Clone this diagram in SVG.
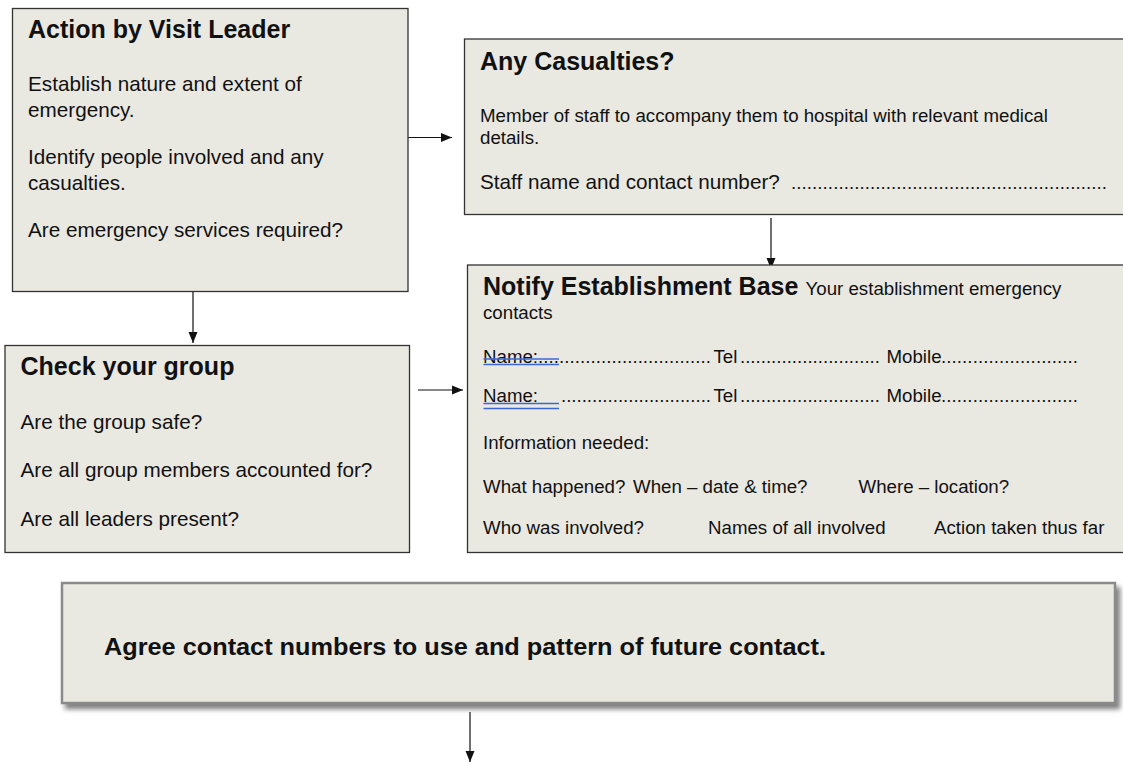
<svg xmlns="http://www.w3.org/2000/svg" width="1123" height="763" viewBox="0 0 1123 763">
  <style>
    text { font-family: "Liberation Sans", Arial, sans-serif; fill: #111; }
    .box { fill: #e9e8e1; stroke: #333; stroke-width: 1.3; }
    .head { font-size: 25px; font-weight: bold; }
    .body { font-size: 20.7px; }
    .small { font-size: 18.7px; }
    .conn { stroke: #111; stroke-width: 1.2; fill: none; marker-end: url(#arrow); }
    .spell { stroke: #3b68d8; stroke-width: 1.6; }
  </style>
  <defs>
    <marker id="arrow" markerUnits="userSpaceOnUse" markerWidth="11" markerHeight="10" refX="11" refY="5" orient="auto">
      <path d="M0,0.5 L11,5 L0,9.5 z" fill="#111"/>
    </marker>
    <filter id="shadow" x="-5%" y="-20%" width="115%" height="150%">
      <feDropShadow dx="4" dy="5" stdDeviation="2.5" flood-color="#555" flood-opacity="0.75"/>
    </filter>
  </defs>

  <rect width="1123" height="763" fill="#fff"/>

  <!-- connectors -->
  <g id="connectors">
    <line class="conn" x1="408" y1="137.5" x2="452" y2="137.5"/>
    <line class="conn" x1="193" y1="291" x2="193" y2="343"/>
    <line class="conn" x1="418" y1="390" x2="463" y2="390"/>
    <line class="conn" x1="771" y1="218" x2="771" y2="269"/>
    <line class="conn" x1="470" y1="712" x2="470" y2="762"/>
  </g>

  <!-- Action by Visit Leader -->
  <g id="visit-leader">
    <rect class="box" x="12.5" y="8.5" width="395.5" height="283"/>
    <text class="head" x="28" y="38">Action by Visit Leader</text>
    <text class="body" x="28" y="91">Establish nature and extent of</text>
    <text class="body" x="28" y="117">emergency.</text>
    <text class="body" x="28" y="164">Identify people involved and any</text>
    <text class="body" x="28" y="190">casualties.</text>
    <text class="body" x="28" y="237">Are emergency services required?</text>
  </g>

  <!-- Any Casualties? -->
  <g id="casualties">
    <rect class="box" x="464.5" y="39" width="670" height="175.5"/>
    <text class="head" x="480" y="69.5">Any Casualties?</text>
    <text class="small" x="480" y="121.5">Member of staff to accompany them to hospital with relevant medical</text>
    <text class="small" x="480" y="144">details.</text>
    <text class="body" x="480" y="188.5">Staff name and contact number?</text>
    <text class="small" x="791" y="188.5" textLength="316" lengthAdjust="spacing">............................................................</text>
  </g>

  <!-- Notify Establishment Base -->
  <g id="notify-base">
    <rect class="box" x="467.5" y="265" width="670" height="287.5"/>
    <text class="head" x="483" y="295">Notify Establishment Base</text>
    <text class="small" x="805.5" y="295">Your establishment emergency</text>
    <text class="small" x="483" y="318.5">contacts</text>

    <text class="small" x="483" y="363">Name:</text>
    <text class="small" x="538" y="363" textLength="173" lengthAdjust="spacing">.................................</text>
    <text class="small" x="713.5" y="363">Tel</text>
    <text class="small" x="740" y="363" textLength="140" lengthAdjust="spacing">...........................</text>
    <text class="small" x="886.5" y="363">Mobile</text>
    <text class="small" x="941" y="363" textLength="137" lengthAdjust="spacing">..........................</text>
    <line class="spell" x1="483.5" y1="359" x2="559" y2="359"/>
    <line class="spell" x1="483.5" y1="364.5" x2="559" y2="364.5"/>

    <text class="small" x="483" y="402">Name:</text>
    <text class="small" x="561" y="402" textLength="150" lengthAdjust="spacing">.............................</text>
    <text class="small" x="713.5" y="402">Tel</text>
    <text class="small" x="740" y="402" textLength="140" lengthAdjust="spacing">...........................</text>
    <text class="small" x="886.5" y="402">Mobile</text>
    <text class="small" x="941" y="402" textLength="137" lengthAdjust="spacing">..........................</text>
    <line class="spell" x1="483.5" y1="403.5" x2="559" y2="403.5"/>
    <line class="spell" x1="483.5" y1="408.5" x2="559" y2="408.5"/>

    <text class="small" x="483" y="448.5">Information needed:</text>
    <text class="small" x="483" y="492.5">What happened?</text>
    <text class="small" x="633" y="492.5">When – date &amp; time?</text>
    <text class="small" x="858.5" y="492.5">Where – location?</text>
    <text class="small" x="483" y="534">Who was involved?</text>
    <text class="small" x="708" y="534">Names of all involved</text>
    <text class="small" x="934" y="534">Action taken thus far</text>
  </g>

  <!-- Check your group -->
  <g id="check-group">
    <rect class="box" x="5" y="345.5" width="404.5" height="207"/>
    <text class="head" x="20.5" y="375">Check your group</text>
    <text class="body" x="20.5" y="428.5">Are the group safe?</text>
    <text class="body" x="20.5" y="477">Are all group members accounted for?</text>
    <text class="body" x="20.5" y="526">Are all leaders present?</text>
  </g>

  <!-- Agree contact numbers -->
  <g id="agree-contact">
    <rect x="62" y="583" width="1053" height="120" fill="#e9e8e1" stroke="#8a8a8a" stroke-width="2.5" filter="url(#shadow)"/>
    <text x="104" y="654.5" font-size="24px" font-weight="bold" textLength="722" lengthAdjust="spacingAndGlyphs">Agree contact numbers to use and pattern of future contact.</text>
  </g>
</svg>
